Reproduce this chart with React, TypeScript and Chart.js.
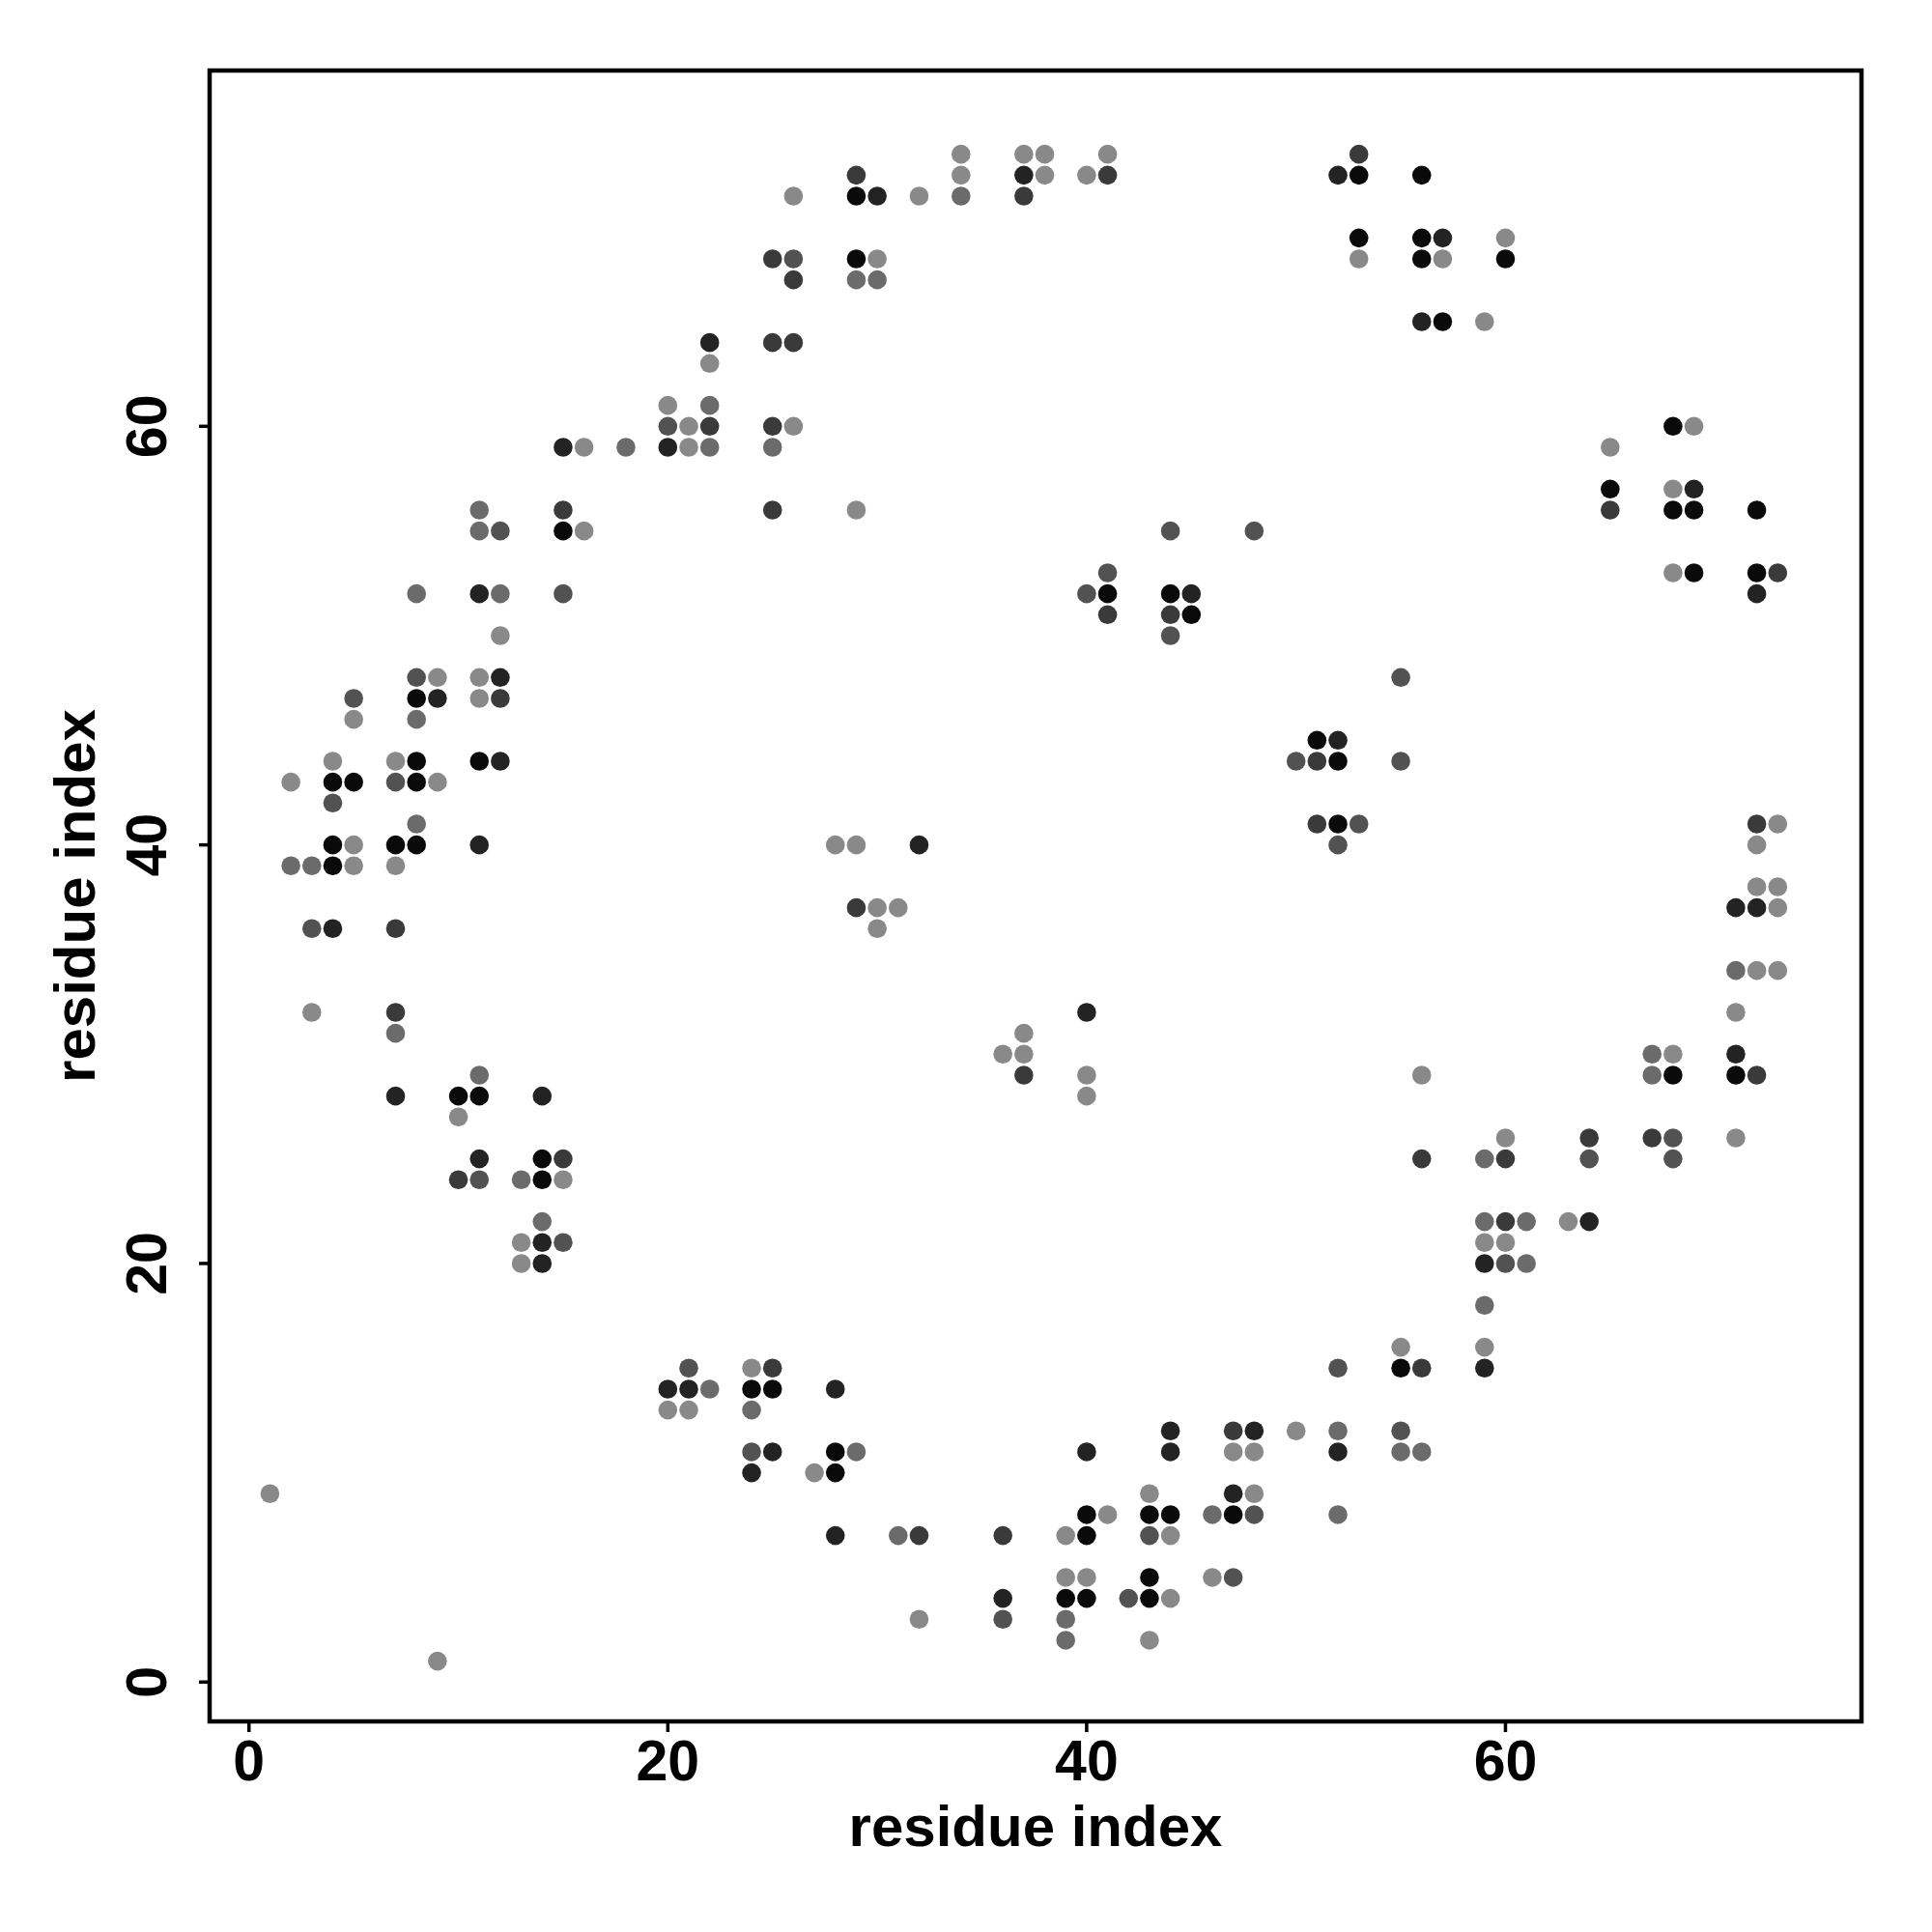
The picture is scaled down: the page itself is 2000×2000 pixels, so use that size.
import { useEffect, useRef } from "react";
import { Chart, registerables } from "chart.js";

Chart.register(...registerables);

// ---- data: contact points [i, j], grouped by shade (darkest -> lightest)
const shadeBlack: [number, number][] = [
  [4, 43], [4, 40], [4, 39], [5, 43], [7, 40], [8, 47], [8, 44], [8, 43], [8, 40],
  [10, 28], [11, 44], [11, 28], [14, 25], [14, 24], [15, 55], [24, 14], [25, 14],
  [28, 11], [28, 10], [29, 71], [29, 68], [39, 4], [40, 8], [40, 7], [40, 4],
  [41, 52], [43, 8], [43, 5], [43, 4], [44, 52], [44, 8], [45, 51], [47, 8],
  [51, 45], [52, 44], [52, 41], [53, 72], [53, 69], [55, 15], [56, 72], [56, 69],
  [56, 68], [57, 65], [60, 68], [65, 57], [68, 60], [68, 56], [68, 29], [69, 56],
  [69, 53], [71, 29], [72, 56], [72, 53],
];
const shadeVeryDark: [number, number][] = [
  [4, 36], [7, 28], [9, 47], [11, 52], [11, 40], [11, 25], [12, 48], [12, 44],
  [14, 28], [14, 21], [14, 20], [15, 59], [20, 59], [20, 14], [21, 14], [22, 64],
  [24, 10], [25, 11], [28, 14], [28, 7], [30, 71], [32, 40], [36, 4], [37, 72],
  [40, 32], [40, 11], [44, 12], [44, 11], [45, 52], [47, 9], [48, 12], [52, 72],
  [52, 45], [52, 11], [56, 65], [57, 69], [59, 20], [59, 15], [64, 22], [69, 57],
  [71, 37], [71, 30], [72, 52], [72, 37],
];
const shadeDark: [number, number][] = [
  [7, 36], [7, 32], [10, 24], [12, 47], [15, 56], [15, 25], [22, 60], [25, 68],
  [25, 64], [25, 60], [25, 56], [25, 15], [26, 67], [26, 64], [29, 72], [29, 37],
  [32, 7], [36, 7], [37, 71], [37, 29], [41, 72], [41, 51], [44, 51], [47, 12],
  [51, 44], [51, 41], [53, 73], [56, 25], [56, 15], [60, 25], [60, 22], [64, 26],
  [65, 56], [67, 26], [72, 41], [72, 29], [73, 53],
];
const shadeMid: [number, number][] = [
  [3, 36], [4, 42], [5, 47], [7, 43], [8, 48], [11, 24], [12, 55], [15, 52],
  [15, 21], [20, 60], [21, 15], [24, 11], [26, 68], [36, 3], [40, 52], [41, 53],
  [42, 4], [43, 7], [44, 55], [44, 50], [47, 5], [48, 55], [48, 8], [50, 44],
  [52, 40], [52, 15], [53, 41], [55, 48], [55, 44], [55, 12], [60, 20], [64, 25],
  [68, 26], [68, 25],
];
const shadeGrey: [number, number][] = [
  [2, 39], [3, 39], [7, 31], [8, 52], [8, 46], [8, 41], [11, 56], [11, 55],
  [11, 29], [12, 52], [13, 24], [14, 22], [18, 59], [22, 61], [22, 59], [22, 14],
  [24, 13], [25, 59], [29, 67], [29, 11], [30, 67], [31, 7], [34, 71], [39, 3],
  [39, 2], [46, 8], [52, 12], [52, 8], [55, 11], [56, 11], [59, 25], [59, 22],
  [59, 18], [61, 22], [61, 20], [67, 30], [67, 29], [71, 34],
];
const shadeLight: [number, number][] = [
  [1, 9], [2, 43], [3, 32], [4, 44], [5, 46], [5, 40], [5, 39], [7, 44], [7, 39],
  [9, 48], [9, 43], [9, 1], [10, 27], [11, 48], [11, 47], [12, 50], [13, 21],
  [13, 20], [15, 24], [16, 59], [16, 55], [20, 61], [20, 13], [21, 60], [21, 59],
  [21, 13], [22, 63], [24, 15], [26, 71], [26, 60], [27, 10], [28, 40], [29, 56],
  [29, 40], [30, 68], [30, 37], [30, 36], [31, 37], [32, 71], [32, 3], [34, 73],
  [34, 72], [36, 30], [37, 73], [37, 31], [37, 30], [38, 73], [38, 72], [39, 7],
  [39, 5], [40, 72], [40, 29], [40, 28], [40, 5], [41, 73], [41, 8], [43, 9],
  [43, 2], [44, 7], [44, 4], [46, 5], [47, 11], [48, 11], [48, 9], [50, 12],
  [53, 68], [55, 16], [56, 29], [57, 68], [59, 65], [59, 21], [59, 16], [60, 69],
  [60, 26], [60, 21], [63, 22], [65, 59], [68, 57], [68, 53], [68, 30], [69, 60],
  [71, 32], [71, 26], [72, 40], [72, 38], [72, 34], [73, 41], [73, 38], [73, 37],
  [73, 34],
];

const xTicks = [0, 20, 40, 60];
const yTicks = [0, 20, 40, 60];
const xTitle = "residue index";
const yTitle = "residue index";
const axisMin = -1.88;
const axisMax = 77.0;

const series = [
  { name: "black", pts: shadeBlack, color: "#0a0a0a" },
  { name: "very dark", pts: shadeVeryDark, color: "#232323" },
  { name: "dark", pts: shadeDark, color: "#3a3a3a" },
  { name: "mid", pts: shadeMid, color: "#525252" },
  { name: "grey", pts: shadeGrey, color: "#6b6b6b" },
  { name: "light", pts: shadeLight, color: "#898989" },
];

const FONT = "'Liberation Sans', Arial, Helvetica, sans-serif";

const axesPlugin = {
  id: "axesBox",
  afterDraw(chart: any) {
    const { ctx, chartArea: a, scales } = chart;
    const xs = scales.x;
    const ys = scales.y;
    ctx.save();
    ctx.strokeStyle = "#000";
    ctx.fillStyle = "#000";
    ctx.lineWidth = 4.5;
    ctx.strokeRect(a.left, a.top, a.right - a.left, a.bottom - a.top);
    ctx.lineWidth = 3.5;
    ctx.font = `bold 59px ${FONT}`;
    ctx.textAlign = "center";
    ctx.textBaseline = "alphabetic";
    for (const t of xTicks) {
      const px = xs.getPixelForValue(t);
      ctx.beginPath();
      ctx.moveTo(px, a.bottom);
      ctx.lineTo(px, a.bottom + 11);
      ctx.stroke();
      ctx.fillText(String(t), px, a.bottom + 61);
    }
    for (const t of yTicks) {
      const py = ys.getPixelForValue(t);
      ctx.beginPath();
      ctx.moveTo(a.left, py);
      ctx.lineTo(a.left - 11, py);
      ctx.stroke();
      ctx.save();
      ctx.translate(a.left - 45, py);
      ctx.rotate(-Math.PI / 2);
      ctx.fillText(String(t), 0, 0);
      ctx.restore();
    }
    ctx.font = `bold 60px ${FONT}`;
    ctx.fillText(xTitle, (a.left + a.right) / 2, a.bottom + 129);
    ctx.save();
    ctx.translate(a.left - 119, (a.top + a.bottom) / 2);
    ctx.rotate(-Math.PI / 2);
    ctx.fillText(yTitle, 0, 0);
    ctx.restore();
    ctx.restore();
  },
};

export default function App() {
  const ref = useRef<HTMLCanvasElement | null>(null);
  useEffect(() => {
    if (!ref.current) return;
    const chart = new Chart(ref.current, {
      type: "scatter",
      data: {
        datasets: series.map((s) => ({
          label: s.name,
          data: s.pts.map(([x, y]) => ({ x, y })),
          backgroundColor: s.color,
          borderWidth: 0,
          pointRadius: 9.8,
          pointHoverRadius: 9.8,
        })),
      },
      options: {
        responsive: false,
        animation: false,
        devicePixelRatio: 1,
        events: [],
        layout: { padding: { left: 217, top: 73, right: 73, bottom: 218 } },
        plugins: { legend: { display: false }, tooltip: { enabled: false } },
        scales: {
          x: { type: "linear", min: axisMin, max: axisMax, display: false },
          y: { type: "linear", min: axisMin, max: axisMax, display: false },
        },
      },
      plugins: [axesPlugin],
    });
    return () => chart.destroy();
  }, []);
  return (
    <div style={{ position: "absolute", left: 0, top: 0, width: 2000, height: 2000, background: "#fff" }}>
      <canvas ref={ref} width={2000} height={2000} style={{ width: 2000, height: 2000, display: "block" }} />
    </div>
  );
}
